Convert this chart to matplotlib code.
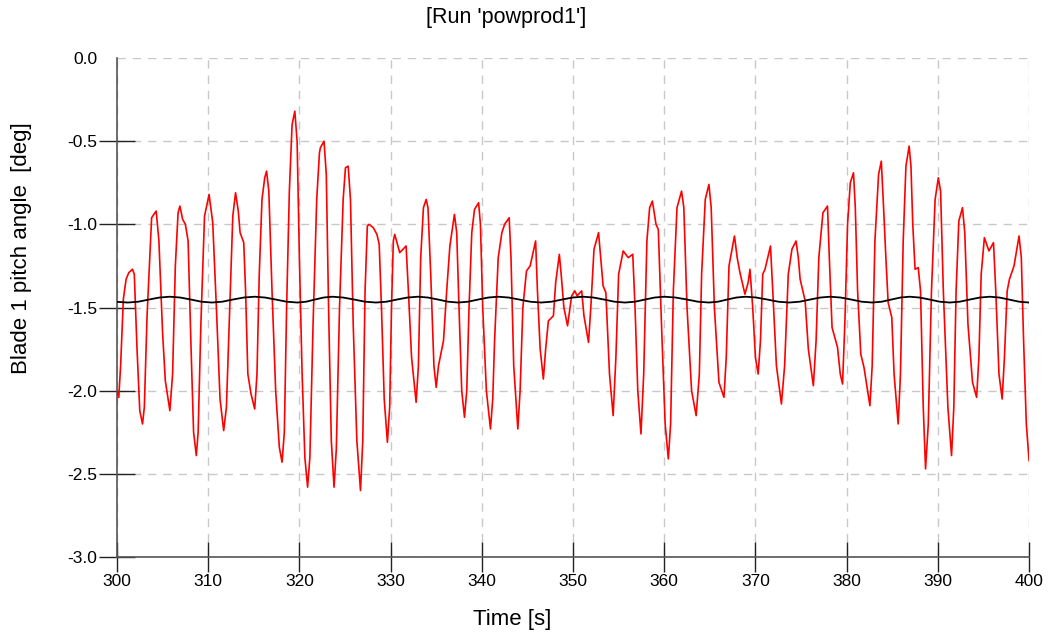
import matplotlib
matplotlib.use("Agg")
import matplotlib.pyplot as plt

plt.rcParams['font.family'] = ['Liberation Sans', 'DejaVu Sans']

# blade 1 pitch angle (time [s], angle [deg])
red_t = [300.0, 300.2, 300.4, 300.7, 301.0, 301.3, 301.7, 301.9, 302.2, 302.5, 302.8, 303.0,
         303.3, 303.8, 304.3, 304.6, 305.0, 305.3, 305.8, 306.1, 306.4, 306.7, 306.9, 307.2,
         307.5, 307.8, 308.1, 308.4, 308.7, 308.9, 309.2, 309.6, 310.1, 310.5, 310.9, 311.3,
         311.7, 312.0, 312.4, 312.7, 313.0, 313.3, 313.5, 313.9, 314.1, 314.35, 314.7, 315.1,
         315.35, 315.6, 315.9, 316.2, 316.4, 316.65, 317.0, 317.4, 317.8, 318.1, 318.35, 318.6,
         318.9, 319.2, 319.5, 319.75, 320.0, 320.3, 320.6, 320.9, 321.15, 321.5, 321.9, 322.2,
         322.3, 322.7, 322.95, 323.2, 323.5, 323.8, 324.05, 324.4, 324.8, 325.05, 325.35, 325.6,
         325.9, 326.3, 326.7, 326.95, 327.2, 327.45, 327.65, 328.1, 328.5, 328.75, 329.0, 329.3,
         329.65, 329.9, 330.1, 330.3, 330.45, 331.0, 331.7, 331.95, 332.3, 332.8, 333.05, 333.3,
         333.6, 333.9, 334.1, 334.4, 334.75, 335.0, 335.25, 335.8, 336.15, 336.5, 337.0, 337.25,
         337.5, 337.8, 338.1, 338.35, 338.6, 338.9, 339.2, 339.65, 339.85, 340.1, 340.5, 340.95,
         341.2, 341.4, 341.8, 342.2, 342.5, 343.0, 343.2, 343.5, 343.95, 344.2, 344.5, 344.9,
         345.3, 345.9, 346.1, 346.4, 346.75, 347.0, 347.3, 347.85, 348.1, 348.5, 348.7, 349.0,
         349.4, 349.85, 350.2, 350.45, 350.95, 351.2, 351.7, 351.95, 352.3, 352.8, 353.3, 353.6,
         354.0, 354.4, 354.7, 355.0, 355.5, 356.05, 356.55, 356.8, 357.1, 357.45, 357.75, 358.1,
         358.4, 358.7, 359.1, 359.35, 359.7, 360.1, 360.45, 360.7, 361.0, 361.4, 361.9, 362.15,
         362.5, 363.0, 363.5, 363.85, 364.1, 364.5, 364.9, 365.15, 365.5, 366.0, 366.55, 366.8,
         367.1, 367.7, 368.0, 368.3, 368.85, 369.2, 369.4, 369.7, 370.0, 370.3, 370.55, 370.8,
         371.05, 371.65, 371.9, 372.3, 372.85, 373.2, 373.6, 374.0, 374.45, 374.7, 374.9, 375.45,
         375.8, 376.35, 376.65, 376.95, 377.4, 377.9, 378.1, 378.4, 379.0, 379.3, 379.55, 379.8,
         380.1, 380.4, 380.75, 380.95, 381.2, 381.55, 381.9, 382.55, 382.8, 383.1, 383.5, 383.8,
         384.05, 384.3, 384.55, 384.95, 385.2, 385.65, 385.9, 386.2, 386.5, 386.85, 387.05, 387.25,
         387.5, 387.85, 388.1, 388.4, 388.65, 388.95, 389.3, 389.7, 390.05, 390.3, 390.6, 391.1,
         391.5, 391.75, 392.0, 392.3, 392.7, 392.95, 393.3, 393.8, 394.25, 394.5, 394.75, 395.1,
         395.6, 396.1, 396.35, 396.7, 397.05, 397.3, 397.6, 397.85, 398.35, 398.9, 399.15, 399.4,
         399.7, 400.0]
red_v = [-2.00, -2.04, -1.85, -1.45, -1.33, -1.29, -1.27, -1.30, -1.75, -2.12, -2.20, -2.10,
         -1.55, -0.96, -0.92, -1.10, -1.65, -1.94, -2.12, -1.90, -1.25, -0.93, -0.89, -0.97,
         -1.00, -1.10, -1.70, -2.25, -2.39, -2.25, -1.60, -0.95, -0.82, -0.99, -1.50, -2.05,
         -2.24, -2.10, -1.45, -0.95, -0.81, -0.92, -1.05, -1.11, -1.40, -1.90, -2.02, -2.11,
         -1.90, -1.30, -0.85, -0.72, -0.68, -0.80, -1.40, -2.00, -2.34, -2.43, -2.25, -1.50,
         -0.80, -0.40, -0.32, -0.50, -1.20, -1.90, -2.40, -2.58, -2.40, -1.60, -0.85, -0.57,
         -0.54, -0.50, -0.70, -1.50, -2.30, -2.58, -2.35, -1.50, -0.85, -0.66, -0.65, -0.85,
         -1.60, -2.30, -2.60, -2.30, -1.40, -1.01, -1.00, -1.02, -1.06, -1.12, -1.50, -2.05,
         -2.31, -2.10, -1.50, -1.10, -1.06, -1.17, -1.13, -1.40, -1.80, -2.07, -1.85, -1.20,
         -0.90, -0.85, -0.90, -1.30, -1.85, -1.98, -1.85, -1.70, -1.40, -1.13, -0.94, -1.05,
         -1.50, -2.00, -2.16, -2.00, -1.50, -1.05, -0.91, -0.87, -1.00, -1.50, -2.00, -2.23,
         -2.05, -1.70, -1.20, -1.05, -1.00, -0.96, -1.20, -1.85, -2.23, -2.00, -1.50, -1.28,
         -1.25, -1.10, -1.40, -1.75, -1.93, -1.75, -1.58, -1.55, -1.35, -1.18, -1.30, -1.50,
         -1.61, -1.43, -1.40, -1.43, -1.40, -1.55, -1.71, -1.50, -1.15, -1.05, -1.37, -1.41,
         -1.90, -2.15, -1.80, -1.30, -1.16, -1.20, -1.18, -1.50, -2.00, -2.26, -1.90, -1.10,
         -0.90, -0.86, -1.00, -1.03, -1.60, -2.20, -2.41, -2.20, -1.40, -0.90, -0.80, -0.90,
         -1.50, -2.00, -2.15, -1.90, -1.30, -0.85, -0.76, -0.90, -1.50, -1.95, -2.04, -1.80,
         -1.25, -1.07, -1.20, -1.29, -1.42, -1.35, -1.27, -1.50, -1.80, -1.90, -1.70, -1.30,
         -1.27, -1.13, -1.40, -1.85, -2.08, -1.85, -1.30, -1.15, -1.10, -1.20, -1.33, -1.46,
         -1.75, -1.97, -1.70, -1.20, -0.93, -0.89, -1.20, -1.62, -1.74, -1.90, -1.96, -1.60,
         -1.00, -0.75, -0.69, -0.90, -1.40, -1.78, -1.86, -2.09, -1.85, -1.10, -0.70, -0.62,
         -0.90, -1.20, -1.47, -1.56, -1.90, -2.20, -1.90, -1.10, -0.65, -0.53, -0.65, -1.00,
         -1.27, -1.26, -1.40, -2.10, -2.47, -2.20, -1.40, -0.85, -0.72, -0.80, -1.40, -2.10,
         -2.39, -2.10, -1.40, -0.98, -0.90, -1.05, -1.60, -1.95, -2.04, -1.80, -1.30, -1.08,
         -1.16, -1.11, -1.40, -1.90, -2.05, -1.80, -1.40, -1.33, -1.25, -1.07, -1.20, -1.70,
         -2.20, -2.42]

# slowly varying black reference curve
black_t = [300.0, 301.2, 302.35, 303.5, 304.65, 305.8, 306.95, 308.1, 309.25, 310.4, 311.55,
           312.7, 313.9, 315.1, 316.25, 317.4, 318.6, 319.8, 320.75, 321.7, 322.65, 323.6,
           324.8, 326.0, 327.2, 328.4, 329.55, 330.7, 331.85, 333.0, 334.1, 335.2, 336.3,
           337.4, 338.5, 339.6, 340.7, 341.8, 342.95, 344.1, 345.3, 346.5, 347.65, 348.8,
           349.95, 351.1, 352.25, 353.4, 354.55, 355.7, 356.8, 357.9, 358.95, 360.0, 361.25,
           362.5, 363.7, 364.9, 365.9, 366.9, 367.9, 368.9, 370.1, 371.3, 372.5, 373.7,
           374.85, 376.0, 377.1, 378.2, 379.35, 380.5, 381.65, 382.8, 383.85, 384.9, 385.9,
           386.9, 388.0, 389.1, 390.2, 391.3, 392.4, 393.5, 394.6, 395.7, 396.75, 397.8,
           398.9, 400.0]
black_v = [-1.466, -1.470, -1.465, -1.452, -1.440, -1.435, -1.440, -1.452, -1.465, -1.470,
           -1.465, -1.452, -1.440, -1.435, -1.440, -1.452, -1.465, -1.470, -1.465, -1.452,
           -1.440, -1.435, -1.440, -1.452, -1.465, -1.470, -1.465, -1.452, -1.440, -1.435,
           -1.440, -1.452, -1.465, -1.470, -1.465, -1.452, -1.440, -1.435, -1.440, -1.452,
           -1.465, -1.470, -1.465, -1.452, -1.440, -1.435, -1.440, -1.452, -1.465, -1.470,
           -1.465, -1.452, -1.440, -1.435, -1.440, -1.452, -1.465, -1.470, -1.465, -1.452,
           -1.440, -1.435, -1.440, -1.452, -1.465, -1.470, -1.465, -1.452, -1.440, -1.435,
           -1.440, -1.452, -1.465, -1.470, -1.465, -1.452, -1.440, -1.435, -1.440, -1.452,
           -1.465, -1.470, -1.465, -1.452, -1.440, -1.435, -1.440, -1.452, -1.465, -1.470]

x_ticks = [300, 310, 320, 330, 340, 350, 360, 370, 380, 390, 400]
y_ticks = [0.0, -0.5, -1.0, -1.5, -2.0, -2.5, -3.0]

fig = plt.figure(figsize=(10.49, 6.39), dpi=100)
ax = fig.add_axes([0.1115, 0.1283, 0.8695, 0.7809])

ax.plot(red_t, red_v, color='red', lw=1.2, zorder=3)
ax.plot(black_t, black_v, color='black', lw=1.3, zorder=4)

ax.set_xlim(300, 400)
ax.set_ylim(-3.0, 0.0)
ax.set_xticks(x_ticks)
ax.set_yticks(y_ticks)
ax.set_yticklabels(['%.1f' % v for v in y_ticks])
ax.tick_params(direction='inout', width=1, colors='#222222', labelsize=12.5,
               labelcolor='black')
ax.tick_params(axis='x', length=21, pad=2)
ax.tick_params(axis='y', length=26, pad=1)
# no tick mark at 0.0, only the label
ax.yaxis.get_major_ticks()[0].tick1line.set_visible(False)

ax.grid(True, color='#c8c8c8', linestyle=(0, (6, 5)), lw=1)
for s in ['top', 'right']:
    ax.spines[s].set_visible(False)
for s in ['left', 'bottom']:
    ax.spines[s].set_color('#555555')
    ax.spines[s].set_linewidth(1.2)

fig.text(506 / 1049, 1 - 18 / 639, "[Run 'powprod1']", ha='center', va='center', fontsize=15.5)
fig.text(512 / 1049, 1 - 619 / 639, "Time [s]", ha='center', va='center', fontsize=16)
fig.text(22 / 1049, 1 - 248 / 639, "Blade 1 pitch angle  [deg]", ha='center', va='center',
         rotation=90, fontsize=16)

fig.savefig('out.png', dpi=100)
